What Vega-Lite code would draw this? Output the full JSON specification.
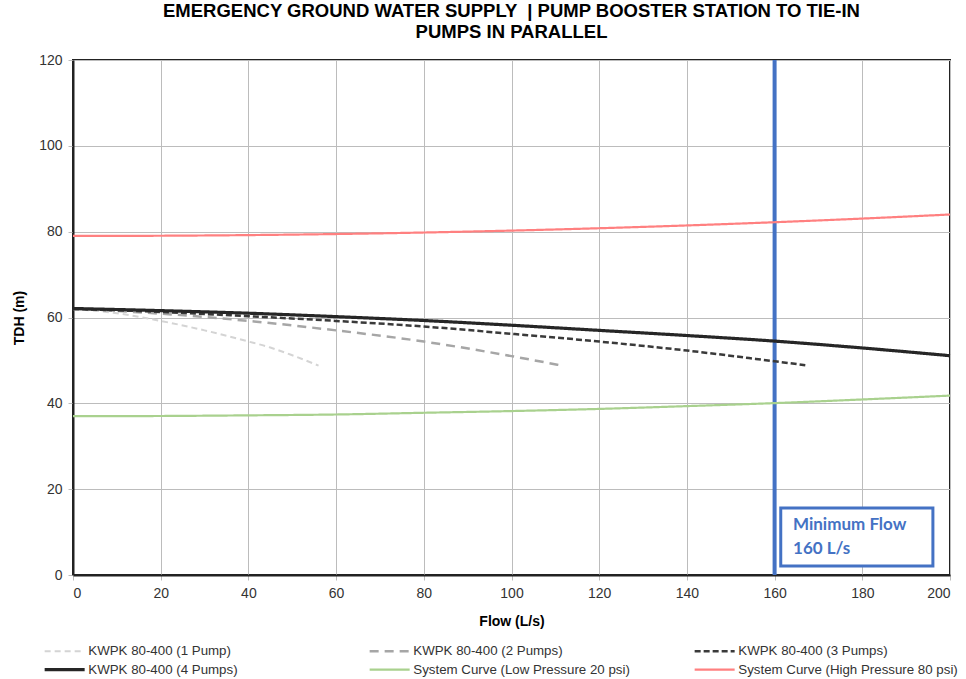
{
  "$schema": "https://vega.github.io/schema/vega-lite/v6.json",
  "width": 877,
  "height": 515,
  "autosize": {"type": "none"},
  "padding": {"left": 73, "top": 60, "right": 16, "bottom": 104},
  "background": "white",
  "title": {
    "text": ["EMERGENCY GROUND WATER SUPPLY \u00a0| PUMP BOOSTER STATION TO TIE-IN", "PUMPS IN PARALLEL"],
    "font": "Liberation Sans, Arial, sans-serif",
    "fontSize": 18.5,
    "fontWeight": "bold",
    "color": "#000000",
    "anchor": "middle",
    "offset": 12,
    "lineHeight": 21
  },
  "config": {
    "view": {"stroke": "#222222", "strokeWidth": 2},
    "axis": {
      "labelFont": "Liberation Sans, Arial, sans-serif",
      "labelFontSize": 14,
      "labelColor": "#333333",
      "titleFont": "Liberation Sans, Arial, sans-serif",
      "titleFontSize": 14,
      "titleFontWeight": "bold",
      "titleColor": "#000000",
      "gridColor": "#bcbcbc",
      "gridWidth": 1,
      "domainColor": "#222222",
      "domainWidth": 2,
      "tickColor": "#bcbcbc",
      "tickSize": 5,
      "labelPadding": 6
    }
  },
  "datasets": {
    "curves": [
      {"series": "KWPK 80-400 (1 Pump)", "flow": 0, "tdh": 62.0},
      {"series": "KWPK 80-400 (1 Pump)", "flow": 10, "tdh": 61.0},
      {"series": "KWPK 80-400 (1 Pump)", "flow": 20, "tdh": 59.2},
      {"series": "KWPK 80-400 (1 Pump)", "flow": 30, "tdh": 57.0},
      {"series": "KWPK 80-400 (1 Pump)", "flow": 40, "tdh": 54.4},
      {"series": "KWPK 80-400 (1 Pump)", "flow": 45, "tdh": 53.0},
      {"series": "KWPK 80-400 (1 Pump)", "flow": 50, "tdh": 51.2},
      {"series": "KWPK 80-400 (1 Pump)", "flow": 56, "tdh": 48.8},
      {"series": "KWPK 80-400 (2 Pumps)", "flow": 0, "tdh": 62.0},
      {"series": "KWPK 80-400 (2 Pumps)", "flow": 20, "tdh": 60.9},
      {"series": "KWPK 80-400 (2 Pumps)", "flow": 40, "tdh": 59.2},
      {"series": "KWPK 80-400 (2 Pumps)", "flow": 60, "tdh": 57.0},
      {"series": "KWPK 80-400 (2 Pumps)", "flow": 80, "tdh": 54.4},
      {"series": "KWPK 80-400 (2 Pumps)", "flow": 100, "tdh": 51.0},
      {"series": "KWPK 80-400 (2 Pumps)", "flow": 111, "tdh": 48.9},
      {"series": "KWPK 80-400 (3 Pumps)", "flow": 0, "tdh": 62.0},
      {"series": "KWPK 80-400 (3 Pumps)", "flow": 20, "tdh": 61.3},
      {"series": "KWPK 80-400 (3 Pumps)", "flow": 40, "tdh": 60.3},
      {"series": "KWPK 80-400 (3 Pumps)", "flow": 60, "tdh": 59.2},
      {"series": "KWPK 80-400 (3 Pumps)", "flow": 80, "tdh": 57.9},
      {"series": "KWPK 80-400 (3 Pumps)", "flow": 100, "tdh": 56.2},
      {"series": "KWPK 80-400 (3 Pumps)", "flow": 120, "tdh": 54.4},
      {"series": "KWPK 80-400 (3 Pumps)", "flow": 140, "tdh": 52.3},
      {"series": "KWPK 80-400 (3 Pumps)", "flow": 160, "tdh": 49.8},
      {"series": "KWPK 80-400 (3 Pumps)", "flow": 167, "tdh": 48.9},
      {"series": "KWPK 80-400 (4 Pumps)", "flow": 0, "tdh": 62.1},
      {"series": "KWPK 80-400 (4 Pumps)", "flow": 20, "tdh": 61.6},
      {"series": "KWPK 80-400 (4 Pumps)", "flow": 40, "tdh": 61.0},
      {"series": "KWPK 80-400 (4 Pumps)", "flow": 60, "tdh": 60.2},
      {"series": "KWPK 80-400 (4 Pumps)", "flow": 80, "tdh": 59.3},
      {"series": "KWPK 80-400 (4 Pumps)", "flow": 100, "tdh": 58.2},
      {"series": "KWPK 80-400 (4 Pumps)", "flow": 120, "tdh": 57.0},
      {"series": "KWPK 80-400 (4 Pumps)", "flow": 140, "tdh": 55.8},
      {"series": "KWPK 80-400 (4 Pumps)", "flow": 160, "tdh": 54.5},
      {"series": "KWPK 80-400 (4 Pumps)", "flow": 180, "tdh": 52.9},
      {"series": "KWPK 80-400 (4 Pumps)", "flow": 200, "tdh": 51.1},
      {"series": "System Curve (Low Pressure 20 psi)", "flow": 0, "tdh": 37.0},
      {"series": "System Curve (Low Pressure 20 psi)", "flow": 20, "tdh": 37.05},
      {"series": "System Curve (Low Pressure 20 psi)", "flow": 40, "tdh": 37.2},
      {"series": "System Curve (Low Pressure 20 psi)", "flow": 60, "tdh": 37.4},
      {"series": "System Curve (Low Pressure 20 psi)", "flow": 80, "tdh": 37.8},
      {"series": "System Curve (Low Pressure 20 psi)", "flow": 100, "tdh": 38.2},
      {"series": "System Curve (Low Pressure 20 psi)", "flow": 120, "tdh": 38.7},
      {"series": "System Curve (Low Pressure 20 psi)", "flow": 140, "tdh": 39.35},
      {"series": "System Curve (Low Pressure 20 psi)", "flow": 160, "tdh": 40.05},
      {"series": "System Curve (Low Pressure 20 psi)", "flow": 180, "tdh": 40.9},
      {"series": "System Curve (Low Pressure 20 psi)", "flow": 200, "tdh": 41.8},
      {"series": "System Curve (High Pressure 80 psi)", "flow": 0, "tdh": 79.0},
      {"series": "System Curve (High Pressure 80 psi)", "flow": 20, "tdh": 79.05},
      {"series": "System Curve (High Pressure 80 psi)", "flow": 40, "tdh": 79.2},
      {"series": "System Curve (High Pressure 80 psi)", "flow": 60, "tdh": 79.45},
      {"series": "System Curve (High Pressure 80 psi)", "flow": 80, "tdh": 79.8},
      {"series": "System Curve (High Pressure 80 psi)", "flow": 100, "tdh": 80.25},
      {"series": "System Curve (High Pressure 80 psi)", "flow": 120, "tdh": 80.8},
      {"series": "System Curve (High Pressure 80 psi)", "flow": 140, "tdh": 81.45},
      {"series": "System Curve (High Pressure 80 psi)", "flow": 160, "tdh": 82.2},
      {"series": "System Curve (High Pressure 80 psi)", "flow": 180, "tdh": 83.05},
      {"series": "System Curve (High Pressure 80 psi)", "flow": 200, "tdh": 84.0}
    ],
    "minflow": [{"flow": 160}],
    "box": [{"x1": 161.4, "x2": 196.1, "y1": 2.1, "y2": 15.6}],
    "labels": [
      {"flow": 164.2, "tdh": 11.7, "label": "Minimum Flow"},
      {"flow": 164.2, "tdh": 6.1, "label": "160 L/s"}
    ]
  },
  "layer": [
    {
      "data": {"name": "minflow"},
      "mark": {"type": "rule", "color": "#4472c4", "strokeWidth": 4},
      "encoding": {
        "x": {"field": "flow", "type": "quantitative", "scale": {"domain": [0, 200], "nice": false},
          "axis": {"values": [0, 20, 40, 60, 80, 100, 120, 140, 160, 180, 200], "title": "Flow (L/s)", "titlePadding": 14}}
      }
    },
    {
      "data": {"name": "curves"},
      "mark": {"type": "line", "interpolate": "monotone"},
      "encoding": {
        "x": {"field": "flow", "type": "quantitative"},
        "y": {"field": "tdh", "type": "quantitative", "scale": {"domain": [0, 120], "nice": false},
          "axis": {"values": [0, 20, 40, 60, 80, 100, 120], "title": "TDH (m)", "titlePadding": 12}},
        "color": {
          "field": "series", "type": "nominal",
          "scale": {
            "domain": ["KWPK 80-400 (1 Pump)", "KWPK 80-400 (2 Pumps)", "KWPK 80-400 (3 Pumps)", "KWPK 80-400 (4 Pumps)", "System Curve (Low Pressure 20 psi)", "System Curve (High Pressure 80 psi)"],
            "range": ["#d4d4d4", "#a6a6a6", "#3a3a3a", "#262626", "#a9d18e", "#ff8080"]
          },
          "legend": {
            "title": null, "orient": "none", "direction": "horizontal", "legendX": -29, "legendY": 584, "columns": 3,
            "gridAlign": "all", "columnPadding": 56, "rowPadding": 4,
            "symbolType": "M-1.5,0H8.5", "symbolSize": 64, "labelLimit": 400, "labelOffset": 31,
            "labelFont": "Liberation Sans, Arial, sans-serif", "labelFontSize": 13.3, "labelColor": "#333333"
          }
        },
        "strokeDash": {
          "field": "series", "type": "nominal",
          "scale": {
            "domain": ["KWPK 80-400 (1 Pump)", "KWPK 80-400 (2 Pumps)", "KWPK 80-400 (3 Pumps)", "KWPK 80-400 (4 Pumps)", "System Curve (Low Pressure 20 psi)", "System Curve (High Pressure 80 psi)"],
            "range": [[6, 4], [9, 6], [6, 3], [1, 0], [1, 0], [1, 0]]
          },
          "legend": {
            "title": null, "orient": "none", "direction": "horizontal", "legendX": -29, "legendY": 584, "columns": 3,
            "gridAlign": "all", "columnPadding": 56, "rowPadding": 4,
            "symbolType": "M-1.5,0H8.5", "symbolSize": 64, "labelLimit": 400, "labelOffset": 31,
            "labelFont": "Liberation Sans, Arial, sans-serif", "labelFontSize": 13.3, "labelColor": "#333333"
          }
        },
        "strokeWidth": {
          "field": "series", "type": "nominal",
          "scale": {
            "type": "ordinal",
            "domain": ["KWPK 80-400 (1 Pump)", "KWPK 80-400 (2 Pumps)", "KWPK 80-400 (3 Pumps)", "KWPK 80-400 (4 Pumps)", "System Curve (Low Pressure 20 psi)", "System Curve (High Pressure 80 psi)"],
            "range": [2, 2.5, 2.5, 3.2, 2.2, 2.2]
          },
          "legend": {
            "title": null, "orient": "none", "direction": "horizontal", "legendX": -29, "legendY": 584, "columns": 3,
            "gridAlign": "all", "columnPadding": 56, "rowPadding": 4,
            "symbolType": "M-1.5,0H8.5", "symbolSize": 64, "labelLimit": 400, "labelOffset": 31,
            "labelFont": "Liberation Sans, Arial, sans-serif", "labelFontSize": 13.3, "labelColor": "#333333"
          }
        }
      }
    },
    {
      "data": {"name": "box"},
      "mark": {"type": "rect", "fill": "white", "stroke": "#4472c4", "strokeWidth": 3},
      "encoding": {
        "x": {"field": "x1", "type": "quantitative"},
        "x2": {"field": "x2"},
        "y": {"field": "y1", "type": "quantitative"},
        "y2": {"field": "y2"}
      }
    },
    {
      "data": {"name": "labels"},
      "mark": {"type": "text", "align": "left", "baseline": "middle", "font": "Lato, Open Sans, sans-serif", "fontWeight": "bold", "fontSize": 17, "color": "#4472c4"},
      "encoding": {
        "x": {"field": "flow", "type": "quantitative"},
        "y": {"field": "tdh", "type": "quantitative"},
        "text": {"field": "label", "type": "nominal"}
      }
    }
  ]
}
